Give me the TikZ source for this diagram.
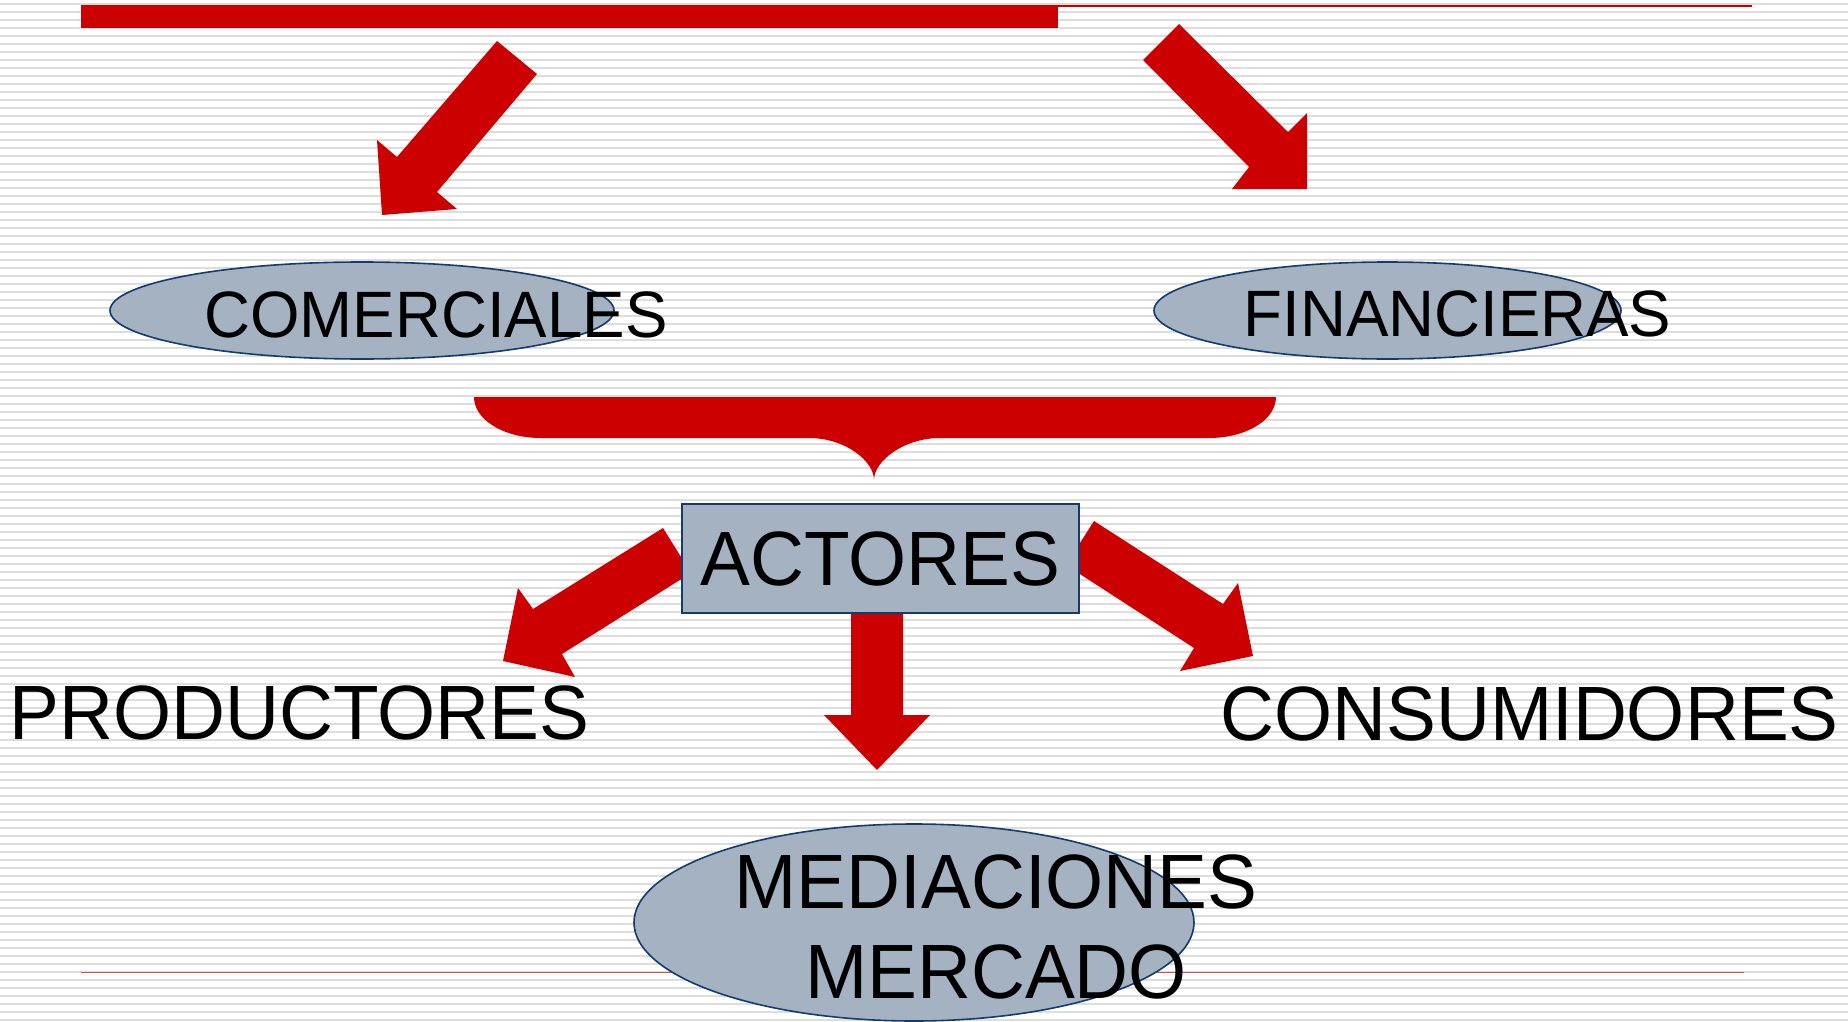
\documentclass[tikz,border=0pt]{standalone}
\usepackage{fontspec}
\setmainfont[FakeStretch=0.97]{Liberation Sans}
\usepackage{tikz}
\usetikzlibrary{shapes.geometric}
\definecolor{arrowred}{RGB}{204,0,0}
\definecolor{ovalfill}{RGB}{164,178,194}
\definecolor{ovalline}{RGB}{18,60,110}
\definecolor{stripegray}{RGB}{221,221,221}
\tikzstyle{stripe}=[draw=stripegray,line width=0.85pt]
\tikzstyle{oval}=[ellipse,draw=ovalline,fill=ovalfill,line width=0.8pt,inner sep=0pt]
\tikzstyle{box}=[rectangle,draw=ovalline,fill=ovalfill,line width=0.8pt,inner sep=0pt,
  minimum width=198.5pt,minimum height=54.5pt]
\tikzstyle{bigtxt}=[inner sep=0pt,font=\fontsize{38.5}{45}\selectfont]
\tikzstyle{smalltxt}=[inner sep=0pt,font=\fontsize{32.8}{40}\selectfont]
\tikzstyle{blockarrow}=[fill=arrowred]

\begin{document}
\begin{tikzpicture}[x=0.5pt,y=-0.5pt]
      \fill[white] (0,0) rectangle (1848,1022);
      \useasboundingbox (0,0) rectangle (1848,1022);
      \foreach \y in {4,12,...,1020}
        \draw[stripe] (0,\y) -- (1848,\y);
      % top and bottom rules
      \draw[arrowred,line width=1pt] (81,6) -- (1752,6);
      \fill[arrowred] (81,5) rectangle (1058,28);
      \draw[arrowred!70,line width=0.8pt] (81,972.5) -- (1744,972.5);
      % arrows to the two kinds
      \fill[blockarrow] (497,41) -- (537,74) -- (437,192) -- (457,209) -- (382,215) -- (377,140) -- (397,157) -- cycle;
      \fill[blockarrow] (1179,24) -- (1143,60) -- (1249,167) -- (1232,189) -- (1307,189) -- (1307,113) -- (1288,132) -- cycle;
      \node[oval,minimum width=252pt,minimum height=48.5pt] at (362,310.5) (comerciales) {};
      \node[oval,minimum width=233.5pt,minimum height=48.5pt] at (1387.5,310.5) (financieras) {};
      \node[smalltxt,anchor=base] at (436,337) (comtxt) {COMERCIALES};
      \node[smalltxt,anchor=base] at (1457.5,336) (fintxt) {FINANCIERAS};
      % brace
      \fill[arrowred] (474,397) .. controls (474,420) and (504,438) .. (541,438)
        -- (809,438) .. controls (845,438) and (874,461) .. (874,480)
        .. controls (874,461) and (904,438) .. (940,438)
        -- (1209,438) .. controls (1246,438) and (1276,420) .. (1276,397) -- cycle;
      % arrows out of the box
      \fill[blockarrow] (663,528) -- (691,573) -- (562,654) -- (575,677) -- (503,661) -- (518,588) -- (533,609) -- cycle;
      \fill[blockarrow] (1094,521) -- (1223,604) -- (1238,583) -- (1253,656) -- (1180,671) -- (1194,648) -- (1066,565) -- cycle;
      \fill[blockarrow] (851,600) -- (903,600) -- (903,715) -- (930,715) -- (877,770) -- (824,715) -- (851,715) -- cycle;
      \node[box,bigtxt] at (880.5,558.5) (actores) {ACTORES};
      \node[bigtxt,anchor=base] at (299.5,739) (productores) {PRODUCTORES};
      \node[bigtxt,anchor=base] at (1529.5,740) (consumidores) {CONSUMIDORES};
      \node[oval,minimum width=280pt,minimum height=98.5pt] at (914,922.5) (mediaciones) {};
      \node[bigtxt,align=center,anchor=north] at (996,854) (medtxt) {MEDIACIONES\\MERCADO};
    \end{tikzpicture}
\end{document}
